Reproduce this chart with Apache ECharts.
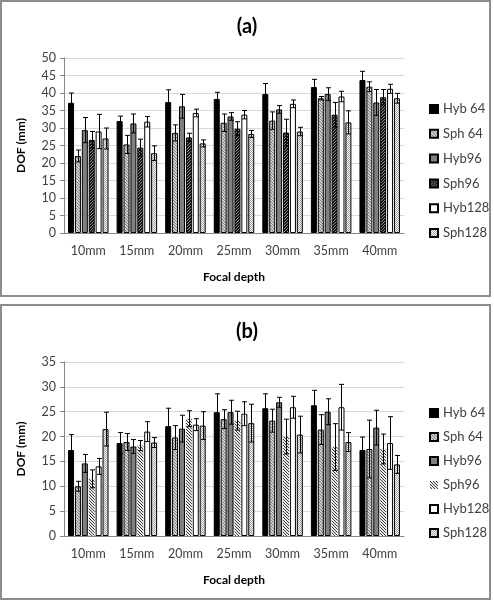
<!DOCTYPE html>
<html><head><meta charset="utf-8">
<script src="https://cdn.jsdelivr.net/npm/echarts@6/dist/echarts.min.js"></script>
<style>html,body{margin:0;padding:0;background:#fff}#c{width:494px;height:601px}</style>
</head><body><div id="c"></div>
<script>
// ---------- data ----------
const categories = ['10mm','15mm','20mm','25mm','30mm','35mm','40mm'];
const seriesNames = ['Hyb 64','Sph 64','Hyb96','Sph96','Hyb128','Sph128'];

// chart (a)
const aHyb64     = [37.2, 32.0, 37.4, 38.3, 39.7, 41.7, 43.7];
const aHyb64Err  = [2.8, 1.4, 3.5, 1.9, 3.0, 2.2, 2.5];
const aSph64     = [22.0, 25.3, 28.6, 31.5, 32.1, 38.5, 41.8];
const aSph64Err  = [1.7, 2.6, 2.3, 2.5, 2.5, 0.5, 1.4];
const aHyb96     = [29.4, 31.3, 36.2, 33.3, 35.3, 39.7, 37.3];
const aHyb96Err  = [3.6, 2.7, 3.4, 1.1, 1.1, 1.8, 3.7];
const aSph96     = [26.6, 24.4, 27.3, 29.8, 28.7, 33.8, 38.8];
const aSph96Err  = [2.4, 2.4, 1.2, 2.0, 3.8, 3.5, 2.2];
const aHyb128    = [29.0, 31.8, 34.3, 33.8, 36.9, 39.0, 41.2];
const aHyb128Err = [4.9, 1.5, 1.1, 1.2, 1.1, 1.5, 1.3];
const aSph128    = [27.0, 22.8, 25.6, 28.3, 29.0, 31.6, 38.5];
const aSph128Err = [3.0, 2.1, 1.0, 1.0, 1.2, 3.3, 1.4];

// chart (b)
const bHyb64     = [17.3, 18.7, 22.1, 24.9, 25.7, 26.3, 17.3];
const bHyb64Err  = [3.1, 2.1, 3.6, 3.7, 2.9, 3.0, 2.6];
const bSph64     = [10.0, 18.9, 19.8, 23.5, 23.2, 21.4, 17.5];
const bSph64Err  = [1.0, 1.7, 2.4, 1.9, 2.3, 3.0, 5.8];
const bHyb96     = [14.6, 18.0, 21.6, 24.9, 26.9, 25.0, 21.8];
const bHyb96Err  = [1.8, 1.4, 2.7, 2.4, 1.0, 2.6, 3.5];
const bSph96     = [11.5, 18.2, 23.6, 23.2, 20.0, 17.9, 17.5];
const bSph96Err  = [1.8, 1.0, 1.6, 1.9, 3.5, 4.7, 3.0];
const bHyb128    = [14.0, 21.0, 22.4, 24.6, 25.9, 25.9, 18.7];
const bHyb128Err = [1.6, 2.0, 1.2, 2.4, 2.2, 4.6, 5.3];
const bSph128    = [21.5, 18.8, 22.2, 22.7, 20.4, 18.9, 14.4];
const bSph128Err = [3.4, 1.0, 2.8, 3.8, 3.7, 1.9, 1.8];

const aMax = 50, bMax = 35, yInterval = 5;

// ---------- styles ----------
function pattern(size, bg, fg, pts){
  const c = document.createElement('canvas'); c.width = c.height = size;
  const g = c.getContext('2d'); g.fillStyle = bg; g.fillRect(0,0,size,size);
  g.fillStyle = fg; pts.forEach(p => g.fillRect(p[0], p[1], 1, 1));
  return {image: c, repeat: 'repeat'};
}
const stylesA = [
  {color:'#000000', borderColor:'#000', borderWidth:1},
  {color:pattern(3,'#d0d0d0','#7f7f7f',[[0,0],[1,1],[2,2]]), borderColor:'#000', borderWidth:1},
  {color:'#808080', borderColor:'#000', borderWidth:1},
  {color:pattern(3,'#141414','#8c8c8c',[[0,2],[1,1],[2,0]]), borderColor:'#000', borderWidth:1},
  {color:'#ffffff', borderColor:'#000', borderWidth:1},
  {color:pattern(2,'#f4f4f4','#a6a6a6',[[0,0],[1,1]]), borderColor:'#000', borderWidth:1}
];
const stylesB = stylesA.slice();
stylesB[3] = {color:pattern(3,'#e8e8e8','#3c3c3c',[[0,0],[1,1],[2,2]]), borderWidth:0};

const BW = 6, GAP = 0.9;
const OFFS = seriesNames.map((_, i) => -(6*BW + 5*GAP)/2 + BW/2 + i*(BW+GAP));

function errRender(i){
  return function(params, api){
    const ci = api.value(0), v = api.value(1), e = api.value(2);
    const t = api.coord([ci, v + e]), b = api.coord([ci, v - e]);
    const x = Math.round(t[0] + OFFS[i]) + 0.5;
    const cap = 2.5, st = {stroke:'#000', lineWidth:1};
    return {type:'group', children:[
      {type:'line', shape:{x1:x, y1:t[1], x2:x, y2:b[1]}, style:st},
      {type:'line', shape:{x1:x-cap, y1:t[1], x2:x+cap, y2:t[1]}, style:st},
      {type:'line', shape:{x1:x-cap, y1:b[1], x2:x+cap, y2:b[1]}, style:st}
    ]};
  };
}

const FONT = 'Lato';
const dataA = [aHyb64, aSph64, aHyb96, aSph96, aHyb128, aSph128];
const errA  = [aHyb64Err, aSph64Err, aHyb96Err, aSph96Err, aHyb128Err, aSph128Err];
const dataB = [bHyb64, bSph64, bHyb96, bSph96, bHyb128, bSph128];
const errB  = [bHyb64Err, bSph64Err, bHyb96Err, bSph96Err, bHyb128Err, bSph128Err];

const series = [];
function addSeries(vals, errs, styles, axis, suffix){
  seriesNames.forEach((n, i) => {
    series.push({type:'bar', name:n + suffix, xAxisIndex:axis, yAxisIndex:axis,
      data:vals[i], barWidth:BW, barGap:(GAP/BW*100)+'%', itemStyle:styles[i], z:2});
  });
  seriesNames.forEach((n, i) => {
    series.push({type:'custom', name:'err'+axis+'_'+i, xAxisIndex:axis, yAxisIndex:axis,
      renderItem:errRender(i), encode:{x:0, y:1}, z:5,
      data:vals[i].map((v, k) => [k, v, errs[i][k]])});
  });
}
addSeries(dataA, errA, stylesA, 0, '');
addSeries(dataB, errB, stylesB, 1, ' ');

function xAx(idx){
  return {type:'category', gridIndex:idx, data:categories,
    axisLine:{lineStyle:{color:'#868686'}}, axisTick:{length:4, lineStyle:{color:'#868686'}},
    axisLabel:{color:'#404040', fontSize:12.5, fontFamily:FONT, margin:11},
    name:'Focal depth', nameLocation:'middle', nameGap:38,
    nameTextStyle:{color:'#000', fontWeight:'bold', fontSize:12, fontFamily:FONT}};
}
function yAx(idx, max){
  return {type:'value', gridIndex:idx, min:0, max:max, interval:yInterval,
    axisLine:{show:true, lineStyle:{color:'#868686'}}, axisTick:{show:true, length:4, lineStyle:{color:'#868686'}},
    splitLine:{lineStyle:{color:'#d9d9d9'}},
    axisLabel:{color:'#404040', fontSize:12.5, fontFamily:FONT, margin:8},
    name:'DOF (mm)', nameLocation:'middle', nameRotate:90, nameGap:37,
    nameTextStyle:{color:'#000', fontWeight:'bold', fontSize:12, fontFamily:FONT}};
}
function legend(top, gap, suffix){
  return {orient:'vertical', left:424, top:top, icon:'rect', itemWidth:8, itemHeight:8,
    itemGap:gap, data:seriesNames.map(n => n + suffix), formatter:n => n.trim(),
    textStyle:{color:'#404040', fontSize:13, fontFamily:FONT, lineHeight:14}};
}

const chart = echarts.init(document.getElementById('c'));
chart.setOption({
  animation:false,
  backgroundColor:'#fff',
  title:[
    {text:'(a)', left:'center', top:12, textStyle:{fontSize:20, fontWeight:'bold', fontFamily:FONT, color:'#000'}},
    {text:'(b)', left:'center', top:317, textStyle:{fontSize:20, fontWeight:'bold', fontFamily:FONT, color:'#000'}}
  ],
  grid:[
    {left:64, top:58, width:340, height:175},
    {left:64, top:362, width:340, height:174}
  ],
  xAxis:[xAx(0), xAx(1)],
  yAxis:[yAx(0, aMax), yAx(1, bMax)],
  legend:[legend(97, 10.8, ''), legend(401, 10, ' ')],
  graphic:[
    {type:'rect', shape:{x:1, y:1, width:489, height:295}, style:{fill:'none', stroke:'#8c8c8c', lineWidth:2}, silent:true},
    {type:'rect', shape:{x:1, y:305, width:489, height:294}, style:{fill:'none', stroke:'#8c8c8c', lineWidth:2}, silent:true}
  ],
  series:series
});
</script></body></html>
